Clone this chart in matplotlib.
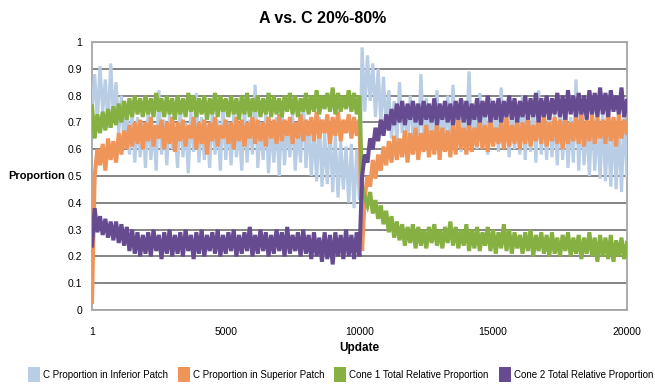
import numpy as np
import matplotlib
matplotlib.use("Agg")
import matplotlib.pyplot as plt
from matplotlib.patches import Patch

# update steps: 1, then every 100 updates
updates = [1] + list(range(100, 20001, 100))

# values (every 100 updates)
c_inferior = [0.75,
    0.88, 0.70, 0.91, 0.74, 0.86, 0.68, 0.92, 0.72, 0.85, 0.66,
    0.80, 0.62, 0.76, 0.58, 0.74, 0.55, 0.72, 0.57, 0.70, 0.53,
    0.75, 0.56, 0.69, 0.52, 0.82, 0.58, 0.71, 0.54, 0.73, 0.60,
    0.68, 0.53, 0.76, 0.57, 0.70, 0.51, 0.74, 0.59, 0.81, 0.55,
    0.72, 0.56, 0.69, 0.53, 0.75, 0.58, 0.71, 0.52, 0.78, 0.56,
    0.70, 0.54, 0.73, 0.57, 0.68, 0.52, 0.76, 0.55, 0.71, 0.58,
    0.84, 0.53, 0.70, 0.56, 0.74, 0.51, 0.69, 0.55, 0.72, 0.50,
    0.75, 0.54, 0.70, 0.57, 0.73, 0.52, 0.68, 0.55, 0.79, 0.53,
    0.70, 0.50, 0.68, 0.48, 0.72, 0.46, 0.66, 0.47, 0.69, 0.44,
    0.65, 0.42, 0.63, 0.45, 0.61, 0.40, 0.62, 0.38, 0.60, 0.41,
    0.98, 0.74, 0.95, 0.78, 0.92, 0.72, 0.90, 0.70, 0.87, 0.68,
    0.82, 0.64, 0.78, 0.62, 0.85, 0.66, 0.76, 0.61, 0.80, 0.65,
    0.77, 0.60, 0.88, 0.63, 0.79, 0.62, 0.75, 0.64, 0.82, 0.61,
    0.76, 0.60, 0.80, 0.63, 0.84, 0.62, 0.77, 0.59, 0.78, 0.64,
    0.89, 0.61, 0.76, 0.60, 0.81, 0.63, 0.75, 0.58, 0.79, 0.62,
    0.77, 0.59, 0.83, 0.61, 0.74, 0.57, 0.78, 0.60, 0.76, 0.58,
    0.80, 0.56, 0.75, 0.59, 0.77, 0.55, 0.82, 0.58, 0.74, 0.56,
    0.76, 0.57, 0.73, 0.54, 0.79, 0.56, 0.75, 0.53, 0.72, 0.55,
    0.86, 0.52, 0.74, 0.54, 0.71, 0.50, 0.75, 0.52, 0.70, 0.49,
    0.73, 0.48, 0.69, 0.46, 0.72, 0.45, 0.70, 0.44, 0.74, 0.50]

c_superior = [0.03,
    0.50, 0.60, 0.54, 0.62, 0.52, 0.64, 0.56, 0.63, 0.55, 0.66,
    0.58, 0.67, 0.60, 0.69, 0.61, 0.70, 0.62, 0.71, 0.60, 0.70,
    0.63, 0.72, 0.61, 0.69, 0.64, 0.71, 0.60, 0.70, 0.62, 0.72,
    0.59, 0.70, 0.63, 0.71, 0.61, 0.69, 0.64, 0.72, 0.60, 0.70,
    0.62, 0.71, 0.58, 0.70, 0.63, 0.72, 0.61, 0.69, 0.64, 0.71,
    0.62, 0.70, 0.60, 0.72, 0.63, 0.71, 0.61, 0.70, 0.64, 0.72,
    0.62, 0.71, 0.63, 0.70, 0.61, 0.72, 0.64, 0.71, 0.62, 0.73,
    0.63, 0.71, 0.65, 0.72, 0.62, 0.70, 0.64, 0.73, 0.63, 0.71,
    0.65, 0.72, 0.63, 0.74, 0.64, 0.71, 0.66, 0.73, 0.62, 0.72,
    0.65, 0.74, 0.63, 0.71, 0.66, 0.73, 0.64, 0.72, 0.65, 0.71,
    0.22, 0.42, 0.50, 0.46, 0.56, 0.49, 0.58, 0.52, 0.61, 0.54,
    0.63, 0.55, 0.65, 0.56, 0.64, 0.57, 0.67, 0.55, 0.66, 0.58,
    0.68, 0.56, 0.66, 0.59, 0.69, 0.57, 0.67, 0.58, 0.70, 0.56,
    0.68, 0.59, 0.67, 0.57, 0.69, 0.58, 0.71, 0.60, 0.68, 0.58,
    0.70, 0.59, 0.68, 0.61, 0.72, 0.60, 0.69, 0.59, 0.71, 0.61,
    0.68, 0.62, 0.70, 0.60, 0.72, 0.61, 0.69, 0.62, 0.71, 0.60,
    0.70, 0.62, 0.72, 0.61, 0.69, 0.63, 0.71, 0.62, 0.73, 0.61,
    0.70, 0.63, 0.72, 0.62, 0.71, 0.60, 0.73, 0.62, 0.70, 0.63,
    0.72, 0.62, 0.74, 0.61, 0.71, 0.63, 0.73, 0.62, 0.72, 0.64,
    0.71, 0.62, 0.74, 0.63, 0.72, 0.61, 0.73, 0.64, 0.71, 0.66]

cone1 = [0.76,
    0.64, 0.73, 0.66, 0.74, 0.67, 0.75, 0.68, 0.76, 0.69, 0.77,
    0.70, 0.78, 0.71, 0.79, 0.72, 0.80, 0.73, 0.79, 0.72, 0.80,
    0.73, 0.79, 0.72, 0.81, 0.74, 0.79, 0.72, 0.80, 0.73, 0.79,
    0.71, 0.80, 0.73, 0.79, 0.72, 0.81, 0.74, 0.80, 0.72, 0.79,
    0.73, 0.80, 0.71, 0.79, 0.73, 0.81, 0.72, 0.80, 0.74, 0.79,
    0.72, 0.80, 0.73, 0.79, 0.71, 0.80, 0.73, 0.81, 0.72, 0.79,
    0.74, 0.80, 0.72, 0.79, 0.73, 0.81, 0.72, 0.80, 0.73, 0.79,
    0.72, 0.80, 0.74, 0.81, 0.73, 0.80, 0.72, 0.79, 0.74, 0.81,
    0.73, 0.80, 0.74, 0.82, 0.73, 0.80, 0.75, 0.81, 0.74, 0.83,
    0.73, 0.81, 0.74, 0.80, 0.75, 0.82, 0.74, 0.81, 0.73, 0.80,
    0.46, 0.42, 0.39, 0.44, 0.36, 0.41, 0.34, 0.39, 0.32, 0.37,
    0.29, 0.35, 0.27, 0.33, 0.26, 0.32, 0.24, 0.31, 0.25, 0.32,
    0.23, 0.31, 0.24, 0.30, 0.23, 0.31, 0.25, 0.32, 0.24, 0.30,
    0.23, 0.31, 0.25, 0.33, 0.24, 0.31, 0.23, 0.30, 0.24, 0.32,
    0.22, 0.30, 0.23, 0.31, 0.22, 0.29, 0.24, 0.31, 0.22, 0.30,
    0.21, 0.29, 0.23, 0.32, 0.22, 0.30, 0.21, 0.29, 0.23, 0.28,
    0.21, 0.29, 0.22, 0.30, 0.20, 0.28, 0.22, 0.29, 0.21, 0.28,
    0.20, 0.29, 0.21, 0.27, 0.20, 0.28, 0.22, 0.29, 0.20, 0.27,
    0.21, 0.28, 0.19, 0.27, 0.21, 0.29, 0.20, 0.27, 0.18, 0.28,
    0.20, 0.27, 0.19, 0.28, 0.18, 0.26, 0.20, 0.27, 0.19, 0.25]

cone2 = [0.24,
    0.38, 0.29, 0.35, 0.28, 0.34, 0.27, 0.33, 0.26, 0.33, 0.25,
    0.32, 0.24, 0.31, 0.22, 0.30, 0.21, 0.29, 0.20, 0.28, 0.21,
    0.29, 0.20, 0.30, 0.22, 0.28, 0.19, 0.29, 0.21, 0.30, 0.20,
    0.28, 0.21, 0.29, 0.20, 0.30, 0.22, 0.28, 0.19, 0.29, 0.21,
    0.30, 0.20, 0.28, 0.22, 0.29, 0.21, 0.30, 0.20, 0.28, 0.21,
    0.29, 0.22, 0.30, 0.20, 0.28, 0.21, 0.29, 0.22, 0.31, 0.20,
    0.28, 0.21, 0.30, 0.22, 0.29, 0.20, 0.28, 0.21, 0.30, 0.22,
    0.29, 0.20, 0.31, 0.21, 0.28, 0.22, 0.29, 0.20, 0.30, 0.21,
    0.28, 0.19, 0.29, 0.20, 0.27, 0.18, 0.29, 0.19, 0.28, 0.17,
    0.29, 0.20, 0.28, 0.19, 0.30, 0.20, 0.28, 0.19, 0.29, 0.20,
    0.50, 0.58, 0.55, 0.64, 0.60, 0.68, 0.63, 0.71, 0.65, 0.73,
    0.67, 0.75, 0.69, 0.77, 0.70, 0.78, 0.69, 0.77, 0.71, 0.78,
    0.70, 0.77, 0.69, 0.78, 0.71, 0.77, 0.70, 0.79, 0.69, 0.77,
    0.71, 0.78, 0.70, 0.77, 0.69, 0.78, 0.71, 0.79, 0.70, 0.78,
    0.69, 0.77, 0.71, 0.79, 0.70, 0.78, 0.72, 0.80, 0.70, 0.78,
    0.71, 0.79, 0.70, 0.78, 0.72, 0.80, 0.71, 0.79, 0.70, 0.78,
    0.72, 0.80, 0.71, 0.79, 0.72, 0.81, 0.70, 0.79, 0.72, 0.80,
    0.71, 0.79, 0.73, 0.81, 0.72, 0.80, 0.71, 0.82, 0.73, 0.80,
    0.72, 0.81, 0.73, 0.80, 0.71, 0.82, 0.73, 0.81, 0.72, 0.83,
    0.73, 0.81, 0.72, 0.82, 0.74, 0.80, 0.73, 0.83, 0.72, 0.78]

labels = ["C Proportion in Inferior Patch", "C Proportion in Superior Patch",
          "Cone 1 Total Relative Proportion", "Cone 2 Total Relative Proportion"]
colors = ["#b9cde5", "#f0955a", "#86b041", "#674b91"]
widths = [2.3, 2.9, 2.9, 2.9]

x_ticks = [1, 5000, 10000, 15000, 20000]
y_ticks = [0, 0.1, 0.2, 0.3, 0.4, 0.5, 0.6, 0.7, 0.8, 0.9, 1]

font = ["Liberation Sans", "DejaVu Sans"]

fig = plt.figure(figsize=(6.55, 3.87), dpi=100)
ax = fig.add_axes([0.1405, 0.199, 0.8165, 0.6925])

series = [c_inferior, c_superior, cone1, cone2]
for vals, col, w in zip(series, colors, widths):
    ax.plot(updates, vals, color=col, lw=w, zorder=3, solid_joinstyle="miter")

ax.set_xlim(1, 20000)
ax.set_ylim(0, 1)
ax.set_xticks(x_ticks)
ax.set_xticklabels([str(t) for t in x_ticks], family=font, fontsize=7.5)
ax.set_yticks(y_ticks)
ax.set_yticklabels(["%g" % t for t in y_ticks], family=font, fontsize=7.5)
ax.tick_params(axis="y", length=0, pad=7)
ax.tick_params(axis="x", length=0, pad=12)
ax.grid(axis="y", color="#6f6f6f", lw=1.2, zorder=1)
ax.set_axisbelow(True)
for s in ax.spines.values():
    s.set_color("#a6a6a6")
    s.set_linewidth(1.3)

fig.text(0.493, 0.952, "A vs. C 20%-80%", family=font, fontweight="bold",
         fontsize=11.5, ha="center", va="center")
ax.set_xlabel("Update", family=font, fontweight="bold", fontsize=8.5, labelpad=4)
fig.text(0.1, 0.545, "Proportion", family=font, fontweight="bold", fontsize=8,
         ha="right", va="center")

handles = [Patch(facecolor=c, edgecolor="none") for c in colors]
fig.legend(handles, labels, loc="center", bbox_to_anchor=(0.52, 0.032), ncol=4,
           frameon=False, prop={"family": font, "size": 7},
           handlelength=1.25, handleheight=2.0, handletextpad=0.3,
           columnspacing=1.0, borderpad=0.1)

fig.savefig("out.png", dpi=100)
